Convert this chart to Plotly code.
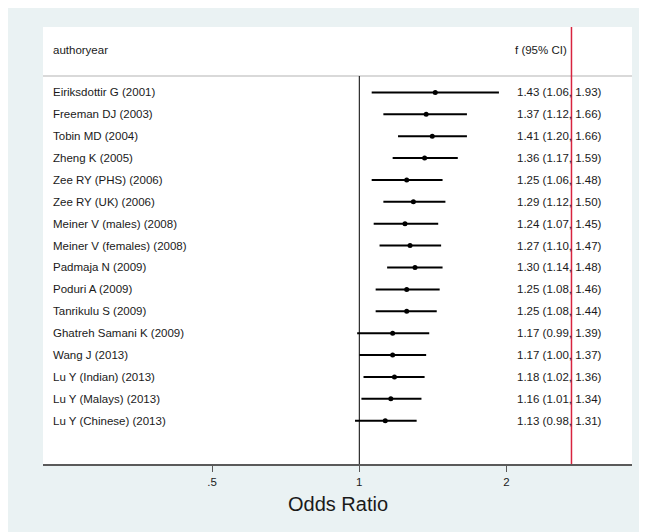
import plotly.graph_objects as go

studies = [
    "Eiriksdottir G (2001)", "Freeman DJ (2003)", "Tobin MD (2004)", "Zheng K (2005)",
    "Zee RY (PHS) (2006)", "Zee RY (UK) (2006)", "Meiner V (males) (2008)",
    "Meiner V (females) (2008)", "Padmaja N (2009)", "Poduri A (2009)",
    "Tanrikulu S (2009)", "Ghatreh Samani K (2009)", "Wang J (2013)",
    "Lu Y (Indian) (2013)", "Lu Y (Malays) (2013)", "Lu Y (Chinese) (2013)",
]
odds = [1.43, 1.37, 1.41, 1.36, 1.25, 1.29, 1.24, 1.27, 1.30, 1.25, 1.25, 1.17, 1.17, 1.18, 1.16, 1.13]
lower = [1.06, 1.12, 1.20, 1.17, 1.06, 1.12, 1.07, 1.10, 1.14, 1.08, 1.08, 0.99, 1.00, 1.02, 1.01, 0.98]
upper = [1.93, 1.66, 1.66, 1.59, 1.48, 1.50, 1.45, 1.47, 1.48, 1.46, 1.44, 1.39, 1.37, 1.36, 1.34, 1.31]
tick_vals = [0.5, 1, 2]
tick_text = [".5", "1", "2"]
header_left = "authoryear"
header_right = "f (95% CI)"
x_title = "Odds Ratio"

W, H = 647, 532
OFF = 8  # page body margin
ML, MR, MT, MB = 35, 23, 19, 76
PW = W - ML - MR
PH = H - MT - MB

def px_x(p):
    return (p - OFF - ML) / PW

def px_y(q):
    return (H - MB - (q - OFF)) / PH

rows = list(range(1, len(studies) + 1))
FONT = "Liberation Sans, Arial, sans-serif"
TXT = "#1a1a1a"

fig = go.Figure()
fig.add_trace(go.Scatter(
    x=odds, y=rows, mode="markers",
    marker=dict(color="black", size=5),
    error_x=dict(type="data", symmetric=False,
                 array=[u - o for u, o in zip(upper, odds)],
                 arrayminus=[o - l for o, l in zip(odds, lower)],
                 color="black", thickness=2, width=0),
    showlegend=False, hoverinfo="skip",
))

ann = []
for r, s, o, l, u in zip(rows, studies, odds, lower, upper):
    ann.append(dict(x=px_x(51), xref="paper", y=r, yref="y", text=s, showarrow=False,
                    xanchor="left", yanchor="middle", font=dict(family=FONT, size=11.5, color=TXT)))
    ann.append(dict(x=px_x(515), xref="paper", y=r, yref="y",
                    text=f"{o:.2f} ({l:.2f}, {u:.2f})", showarrow=False,
                    xanchor="left", yanchor="middle", font=dict(family=FONT, size=11.5, color=TXT)))
ann.append(dict(x=px_x(51), xref="paper", y=-0.93, yref="y", text=header_left, showarrow=False,
                xanchor="left", yanchor="middle", font=dict(family=FONT, size=11.5, color=TXT)))
ann.append(dict(x=px_x(513), xref="paper", y=-0.93, yref="y", text=header_right, showarrow=False,
                xanchor="left", yanchor="middle", font=dict(family=FONT, size=11.5, color=TXT)))
ann.append(dict(x=0.5, xref="paper", y=px_y(504), yref="paper", text=x_title, showarrow=False,
                xanchor="center", yanchor="middle", font=dict(family=FONT, size=20, color=TXT)))

shapes = [
    dict(type="line", xref="paper", yref="y", x0=0, x1=1, y0=0.25, y1=0.25,
         line=dict(color="#d9d9d9", width=2), layer="below"),
    dict(type="line", xref="x", yref="y", x0=1, x1=1, y0=0.25, y1=17.98,
         line=dict(color="black", width=1)),
    dict(type="line", xref="x", yref="paper", x0=2.716, x1=2.716, y0=0, y1=1,
         line=dict(color="#d8243f", width=1.5)),
]

fig.update_layout(
    width=W, height=H,
    margin=dict(l=ML, r=MR, t=MT, b=MB, pad=0),
    paper_bgcolor="#eaf2f3", plot_bgcolor="white",
    font=dict(family=FONT, size=11.5, color=TXT),
    annotations=ann, shapes=shapes,
    xaxis=dict(type="log", range=[-0.6469, 0.5577], tickvals=tick_vals, ticktext=tick_text,
               showgrid=False, zeroline=False, showline=True, linecolor="#5a5a5a", linewidth=1.5,
               ticks="outside", ticklen=6, tickwidth=1.2, tickcolor="#5a5a5a",
               tickfont=dict(family=FONT, size=11.5, color=TXT)),
    yaxis=dict(range=[17.98, -1.99], visible=False, showgrid=False, zeroline=False),
)

fig.write_html("out.html")
